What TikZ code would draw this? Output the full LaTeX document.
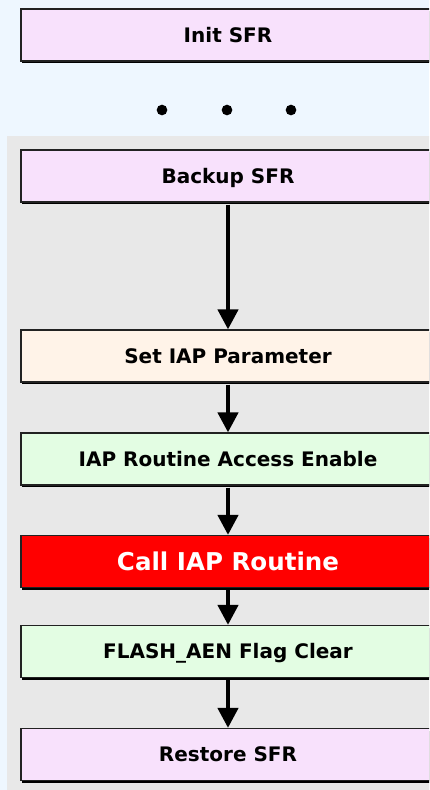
\documentclass[tikz,border=0pt]{standalone}
\usepackage{fontspec}
\setmainfont{DejaVu Sans}
\usetikzlibrary{arrows.meta,shadows}
\definecolor{bgblue}{HTML}{EEF7FF}
\definecolor{panelgray}{HTML}{E8E8E8}
\definecolor{boxpink}{HTML}{F8E1FC}
\definecolor{boxpeach}{HTML}{FFF3E8}
\definecolor{boxgreen}{HTML}{E3FDE3}
\definecolor{boxred}{HTML}{FF0000}
\definecolor{boxline}{HTML}{222222}
\tikzset{
  stepbox/.style={draw=boxline, line width=0.9pt, minimum width=310.5pt, minimum height=39pt,
    inner sep=0pt, text height=10.9pt, text depth=0pt, font=\bfseries\fontsize{15pt}{18pt}\selectfont,
    general shadow={fill=black, shadow xshift=0.4pt, shadow yshift=-1.6pt}},
  bigtext/.style={font=\bfseries\fontsize{18.4pt}{22pt}\selectfont, text=white, text height=13.4pt},
  flowarrow/.style={line width=3.2pt, -{Triangle[width=15pt,length=15pt]}},
  dotmark/.style={circle, fill=black, inner sep=0pt, minimum size=8pt}
}
\begin{document}
\begin{tikzpicture}[x=0.75pt,y=-0.75pt]
\useasboundingbox (0,0) rectangle (429,790);
\clip (0,0) rectangle (429,790);
\fill[bgblue] (0,0) rectangle (429,790);
\fill[panelgray] (7,136) rectangle (440,800);
\node[stepbox, fill=boxpink] (init) at (228,35) {Init SFR};
\node[dotmark] (d1) at (162,110) {};
\node[dotmark] (d2) at (227,110) {};
\node[dotmark] (d3) at (291,110) {};
\node[stepbox, fill=boxpink] (backup) at (228,176) {Backup SFR};
\node[stepbox, fill=boxpeach] (setp) at (228,356) {Set IAP Parameter};
\node[stepbox, fill=boxgreen] (enable) at (228,459) {IAP Routine Access Enable};
\node[stepbox, fill=boxred, bigtext] (call) at (228,561.5) {Call IAP Routine};
\node[stepbox, fill=boxgreen] (flash) at (228,651.5) {FLASH\_AEN Flag Clear};
\node[stepbox, fill=boxpink] (restore) at (228,754.5) {Restore SFR};
\draw[flowarrow] ([yshift=-1.6pt]backup.south) -- (setp.north);
\draw[flowarrow] ([yshift=-1.6pt]setp.south) -- (enable.north);
\draw[flowarrow] ([yshift=-1.6pt]enable.south) -- (call.north);
\draw[flowarrow] ([yshift=-1.6pt]call.south) -- (flash.north);
\draw[flowarrow] ([yshift=-1.6pt]flash.south) -- (restore.north);
\end{tikzpicture}
\end{document}
